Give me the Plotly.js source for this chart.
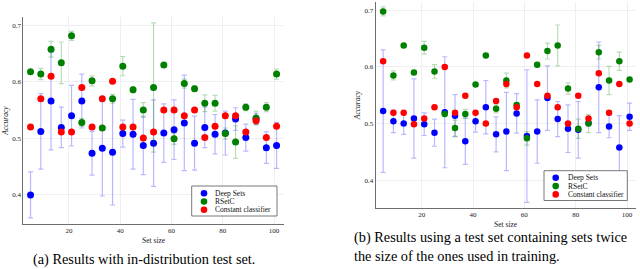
<!DOCTYPE html>
<html>
<head>
<meta charset="utf-8">
<script src="https://cdn.plot.ly/plotly-3.0.1.min.js"></script>
<style>html,body{margin:0;padding:0;background:#fff;}#chart{width:640px;height:269px;}</style>
</head>
<body>
<div id="chart"></div>
<script>
// ---- data ----
const setSizes = [5,9,13,17,21,25,29,33,37,41,45,49,53,57,61,65,69,73,77,81,85,89,93,97,101];

// (a) in-distribution test set
const deepSetsA    = [0.399,0.512,0.566,0.519,0.540,0.566,0.473,0.482,0.475,0.508,0.507,0.487,0.491,0.509,0.515,0.527,0.491,0.519,0.507,0.509,0.534,0.501,0.534,0.483,0.487];
const deepSetsAErr = [0.041,0.067,0.087,0.036,0.054,0.048,0.039,0.085,0.094,0.024,0.062,0.052,0.077,0.052,0.053,0.085,0.048,0.036,0.035,0.039,0.020,0.024,0.010,0.028,0.041];
const rsetcA       = [0.618,0.614,0.658,0.634,0.682,0.528,0.602,0.518,0.570,0.628,0.586,0.550,0.590,0.630,0.499,0.597,0.588,0.562,0.562,0.508,0.493,0.555,0.536,0.555,0.614];
const rsetcAErr    = [0.003,0.010,0.014,0.037,0.008,0.007,0.009,0.004,0.008,0.017,0.005,0.013,0.115,0.003,0.010,0.008,0.005,0.015,0.014,0.010,0.029,0.006,0.012,0.008,0.009];
const constA       = [0.520,0.570,0.610,0.511,0.511,0.590,0.520,0.570,0.601,0.520,0.520,0.500,0.511,0.550,0.550,0.540,0.550,0.501,0.521,0.540,0.540,0.511,0.531,0.501,0.521];

// (b) test set with sets twice the training size
const deepSetsB    = [0.522,0.504,0.500,0.509,0.499,0.484,0.520,0.514,0.469,0.504,0.529,0.481,0.486,0.518,0.478,0.486,0.545,0.508,0.491,0.489,0.501,0.564,0.495,0.458,0.512];
const deepSetsBErr = [0.108,0.020,0.019,0.070,0.020,0.024,0.098,0.037,0.041,0.019,0.047,0.031,0.069,0.035,0.117,0.056,0.057,0.031,0.042,0.050,0.005,0.080,0.020,0.056,0.024];
const rsetcB       = [0.698,0.585,0.638,0.590,0.634,0.592,0.517,0.492,0.517,0.569,0.620,0.526,0.576,0.533,0.474,0.604,0.628,0.638,0.562,0.491,0.500,0.626,0.576,0.610,0.578];
const rsetcBErr    = [0.008,0.008,0.003,0.003,0.011,0.012,0.003,0.014,0.008,0.003,0.003,0.007,0.013,0.003,0.012,0.004,0.014,0.036,0.010,0.017,0.016,0.012,0.025,0.016,0.003];
const constB       = [0.610,0.519,0.519,0.499,0.509,0.529,0.600,0.519,0.549,0.519,0.500,0.540,0.570,0.529,0.620,0.570,0.549,0.529,0.500,0.549,0.509,0.589,0.519,0.570,0.500];

const seriesNames = ["Deep Sets","RSetC","Constant classifier"];
const xTicks = [20,40,60,80,100];
const yTicks = [0.4,0.5,0.6,0.7];
const yTickText = ["0.4","0.5","0.6","0.7"];
const captionA = "(a) Results with in-distribution test set.";
const captionB1 = "(b) Results using a test set containing sets twice";
const captionB2 = "the size of the ones used in training.";

// ---- styling ----
const W = 640, H = 269;
const px = v => v / W, py = v => 1 - v / H;
const SERIF = '"Liberation Serif", "Times New Roman", serif';
const colors = ["#0000ff","#008000","#ff0000"];
const errColors = ["rgba(0,0,255,0.28)","rgba(0,128,0,0.28)","rgba(255,0,0,0.28)"];

function tr(y, err, idx, xa, ya, msize) {
  const t = {
    type: "scatter", mode: "markers", x: setSizes, y: y,
    xaxis: xa, yaxis: ya, name: seriesNames[idx], showlegend: false,
    marker: {color: colors[idx], size: msize, line: {width: 0}},
    hoverinfo: "x+y"
  };
  if (err) t.error_y = {type: "data", array: err, visible: true, color: errColors[idx], thickness: 1.2, width: 2.5};
  return t;
}

const data = [
  tr(deepSetsA, deepSetsAErr, 0, "x", "y", 7),
  tr(rsetcA, rsetcAErr, 1, "x", "y", 7),
  tr(constA, null, 2, "x", "y", 7),
  tr(deepSetsB, deepSetsBErr, 0, "x2", "y2", 6.5),
  tr(rsetcB, rsetcBErr, 1, "x2", "y2", 6.5),
  tr(constB, null, 2, "x2", "y2", 6.5)
];

function xax(domain, range, anchor, standoff) {
  return {domain, range, anchor, showline: true, linecolor: "#6e6e6e", linewidth: 1,
    showgrid: true, gridcolor: "#efefef", gridwidth: 1, zeroline: false, ticks: "",
    tickvals: xTicks, tickfont: {family: SERIF, size: 7, color: "#222"}, mirror: false,
    title: {text: "Set size", font: {family: SERIF, size: 7.5, color: "#222"}, standoff: standoff}};
}
function yax(domain, range, anchor) {
  return {domain, range, anchor, showline: true, linecolor: "#6e6e6e", linewidth: 1,
    showgrid: true, gridcolor: "#efefef", gridwidth: 1, zeroline: false, ticks: "",
    tickvals: yTicks, ticktext: yTickText, tickfont: {family: SERIF, size: 7, color: "#222"},
    title: {text: "Accuracy", font: {family: SERIF, size: 7.5, color: "#222", style: "italic"}, standoff: 2}};
}

const shapes = [], annotations = [];
function legend(box, mx, my, tx) {
  shapes.push({type: "rect", xref: "paper", yref: "paper",
    x0: px(box[0]), x1: px(box[1]), y0: py(box[3]), y1: py(box[2]),
    line: {color: "#555", width: 0.8}, fillcolor: "#fff", layer: "above"});
  for (let i = 0; i < 3; i++) {
    const r = 3.3;
    shapes.push({type: "circle", xref: "paper", yref: "paper",
      x0: px(mx - r), x1: px(mx + r), y0: py(my[i] + r), y1: py(my[i] - r),
      fillcolor: colors[i], line: {width: 0}, layer: "above"});
    annotations.push({xref: "paper", yref: "paper", x: px(tx), y: py(my[i]),
      xanchor: "left", yanchor: "middle", showarrow: false, text: seriesNames[i],
      font: {family: SERIF, size: 7.5, color: "#111"}, borderpad: 0});
  }
}
legend([191.7, 277, 186, 216], 204, [193.2, 201.5, 209.8], 214);
legend([544, 627.3, 170.7, 200.5], 555.7, [177.8, 186.1, 194.4], 566.5);

annotations.push({xref: "paper", yref: "paper", x: px(143.5), y: py(259), xanchor: "center", yanchor: "middle",
  showarrow: false, text: captionA, font: {family: SERIF, size: 14.3, color: "#000"}});
annotations.push({xref: "paper", yref: "paper", x: px(351.5), y: py(237.5), xanchor: "left", yanchor: "middle",
  showarrow: false, text: captionB1, font: {family: SERIF, size: 14.3, color: "#000"}});
annotations.push({xref: "paper", yref: "paper", x: px(351.5), y: py(256), xanchor: "left", yanchor: "middle",
  showarrow: false, text: captionB2, font: {family: SERIF, size: 14.3, color: "#000"}});

const layout = {
  width: W, height: H, margin: {l: 0, r: 0, t: 0, b: 0},
  paper_bgcolor: "#fff", plot_bgcolor: "#fff", showlegend: false,
  font: {family: SERIF},
  xaxis: xax([px(23.3), px(284)], [2.17, 103.9], "y", 3),
  yaxis: yax([py(224), py(17)], [0.3472, 0.7155], "x"),
  xaxis2: xax([px(375.7), px(635.5)], [2.1, 103.3], "y2", 3),
  yaxis2: yax([py(208), py(2)], [0.351, 0.7146], "x2"),
  shapes, annotations
};

Plotly.newPlot("chart", data, layout, {staticPlot: true, displayModeBar: false});
</script>
</body>
</html>
